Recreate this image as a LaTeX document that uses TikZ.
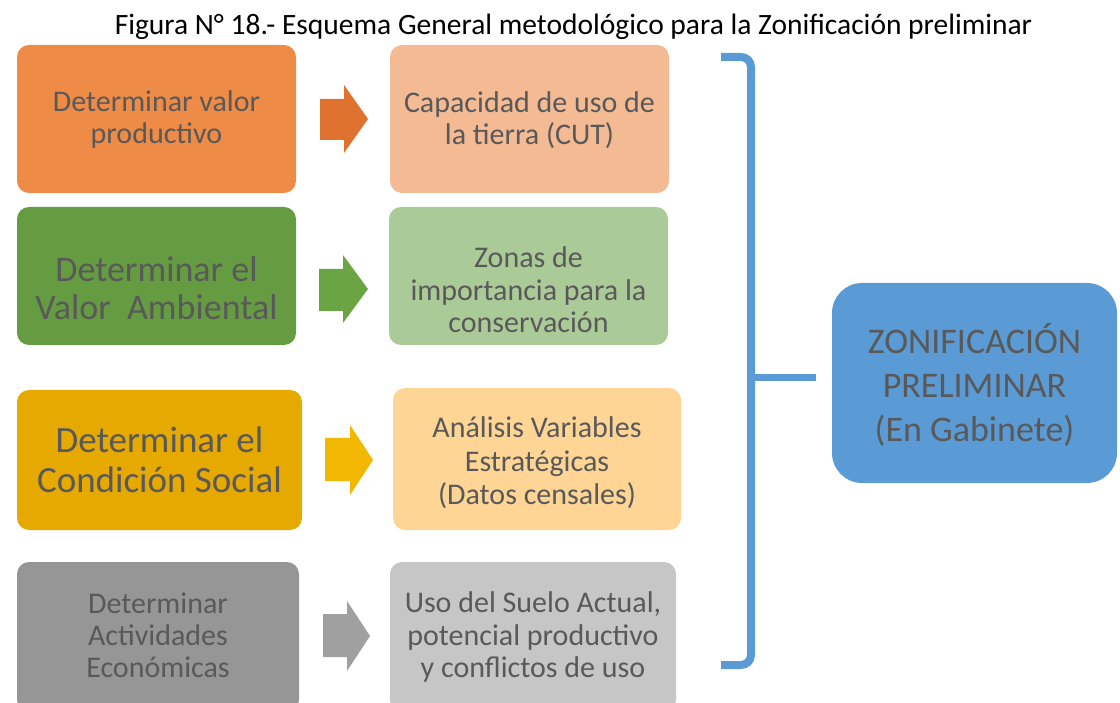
\documentclass[tikz,border=0pt]{standalone}
\usepackage{fontspec}
\setmainfont{Carlito}
\definecolor{txt}{HTML}{595959}
\definecolor{cOrange}{HTML}{EE8B46}
\definecolor{cPeach}{HTML}{F4BA94}
\definecolor{cGreen}{HTML}{659C41}
\definecolor{cLGreen}{HTML}{AACA97}
\definecolor{cGold}{HTML}{E5A900}
\definecolor{cLYellow}{HTML}{FFD595}
\definecolor{cDGray}{HTML}{969696}
\definecolor{cLGray}{HTML}{C6C6C6}
\definecolor{aOrange}{HTML}{E07230}
\definecolor{aGreen}{HTML}{6AA443}
\definecolor{aYellow}{HTML}{F2B700}
\definecolor{aGray}{HTML}{A0A0A0}
\definecolor{cBlue}{HTML}{5B9BD5}
\tikzset{
  box/.style={rounded corners=12pt, inner sep=0pt},
  lbl/.style={inner sep=0pt, align=center, text=txt},
  fsA/.style={font=\fontsize{30}{32}\selectfont},
  fsB/.style={font=\fontsize{30}{32.5}\selectfont},
}
\begin{document}
\begin{tikzpicture}[x=1pt,y=-1pt]
\useasboundingbox (0,0) rectangle (1120,703);
\clip (0,0) rectangle (1120,703);
\node[font=\fontsize{29.5}{32}\selectfont, inner sep=0pt] (title) at (573.5,27) {Figura N° 18.- Esquema General metodológico para la Zonificación preliminar};
% row 1
\node[box, fill=cOrange, minimum width=279pt, minimum height=148pt] (l1) at (156.5,119) {};
\node[lbl, fsA] (l1t) at ([yshift=-1pt]l1.center) {Determinar valor\\productivo};
\node[box, fill=cPeach, minimum width=279pt, minimum height=148pt] (r1) at (529.5,119) {};
\node[lbl, fsB] (r1t) at ([yshift=-1pt]r1.center) {Capacidad de uso de\\la tierra (CUT)};
% row 2
\node[box, fill=cGreen, minimum width=279pt, minimum height=138pt] (l2) at (156.5,276) {};
\node[lbl, font=\fontsize{36}{38.5}\selectfont] (l2t) at ([yshift=-12pt]l2.center) {Determinar el\\Valor\ \ Ambiental};
\node[box, fill=cLGreen, minimum width=279pt, minimum height=138pt] (r2) at (528.5,276) {};
\node[lbl, fsB] (r2t) at ([yshift=-14pt]r2.center) {Zonas de\\importancia para la\\conservación};
% row 3
\node[box, fill=cGold, minimum width=285pt, minimum height=140pt] (l3) at (159.5,460) {};
\node[lbl, font=\fontsize{37}{40}\selectfont] (l3t) at (l3.center) {Determinar el\\Condición Social};
\node[box, fill=cLYellow, minimum width=288pt, minimum height=142pt] (r3) at (537,459) {};
\node[lbl, font=\fontsize{30}{33.5}\selectfont] (r3t) at ([yshift=-4pt]r3.center) {Análisis Variables\\Estratégicas\\(Datos censales)};
% row 4
\node[box, fill=cDGray, minimum width=282pt, minimum height=150pt] (l4) at (158,637) {};
\node[lbl, fsA] (l4t) at ([yshift=2pt]l4.center) {Determinar\\Actividades\\Económicas};
\node[box, fill=cLGray, minimum width=286pt, minimum height=150pt] (r4) at (533,637) {};
\node[lbl, fsB] (r4t) at (r4.center) {Uso del Suelo Actual,\\potencial productivo\\y conflictos de uso};
% result
\node[box, rounded corners=30pt, fill=cBlue, minimum width=285pt, minimum height=200pt] (zon) at (974.5,383) {};
\node[lbl, font=\fontsize{36}{44}\selectfont] (zont) at ([yshift=-2pt]zon.center) {ZONIFICACIÓN\\PRELIMINAR\\(En Gabinete)};
% block arrows
\fill[aOrange] (320,99) -- (344,99) -- (344,85) -- (368,119) -- (344,153) -- (344,140) -- (320,140) -- cycle;
\fill[aGreen] (319,269) -- (343,269) -- (343,255) -- (368,289) -- (343,323) -- (343,311) -- (319,311) -- cycle;
\fill[aYellow] (325,438) -- (350,438) -- (350,425) -- (373,460) -- (350,495) -- (350,481) -- (325,481) -- cycle;
\fill[aGray] (323,614) -- (347,614) -- (347,601) -- (370,636) -- (347,671) -- (347,657) -- (323,657) -- cycle;
% bracket
\coordinate (bt) at (721,57);
\coordinate (bb) at (721,665);
\coordinate (bm) at (816,378);
\draw[cBlue, line width=8pt, rounded corners=10pt] (bt) -- (751,57) -- (751,665) -- (bb);
\draw[cBlue, line width=7pt] (751,378) -- (bm);
\end{tikzpicture}
\end{document}
